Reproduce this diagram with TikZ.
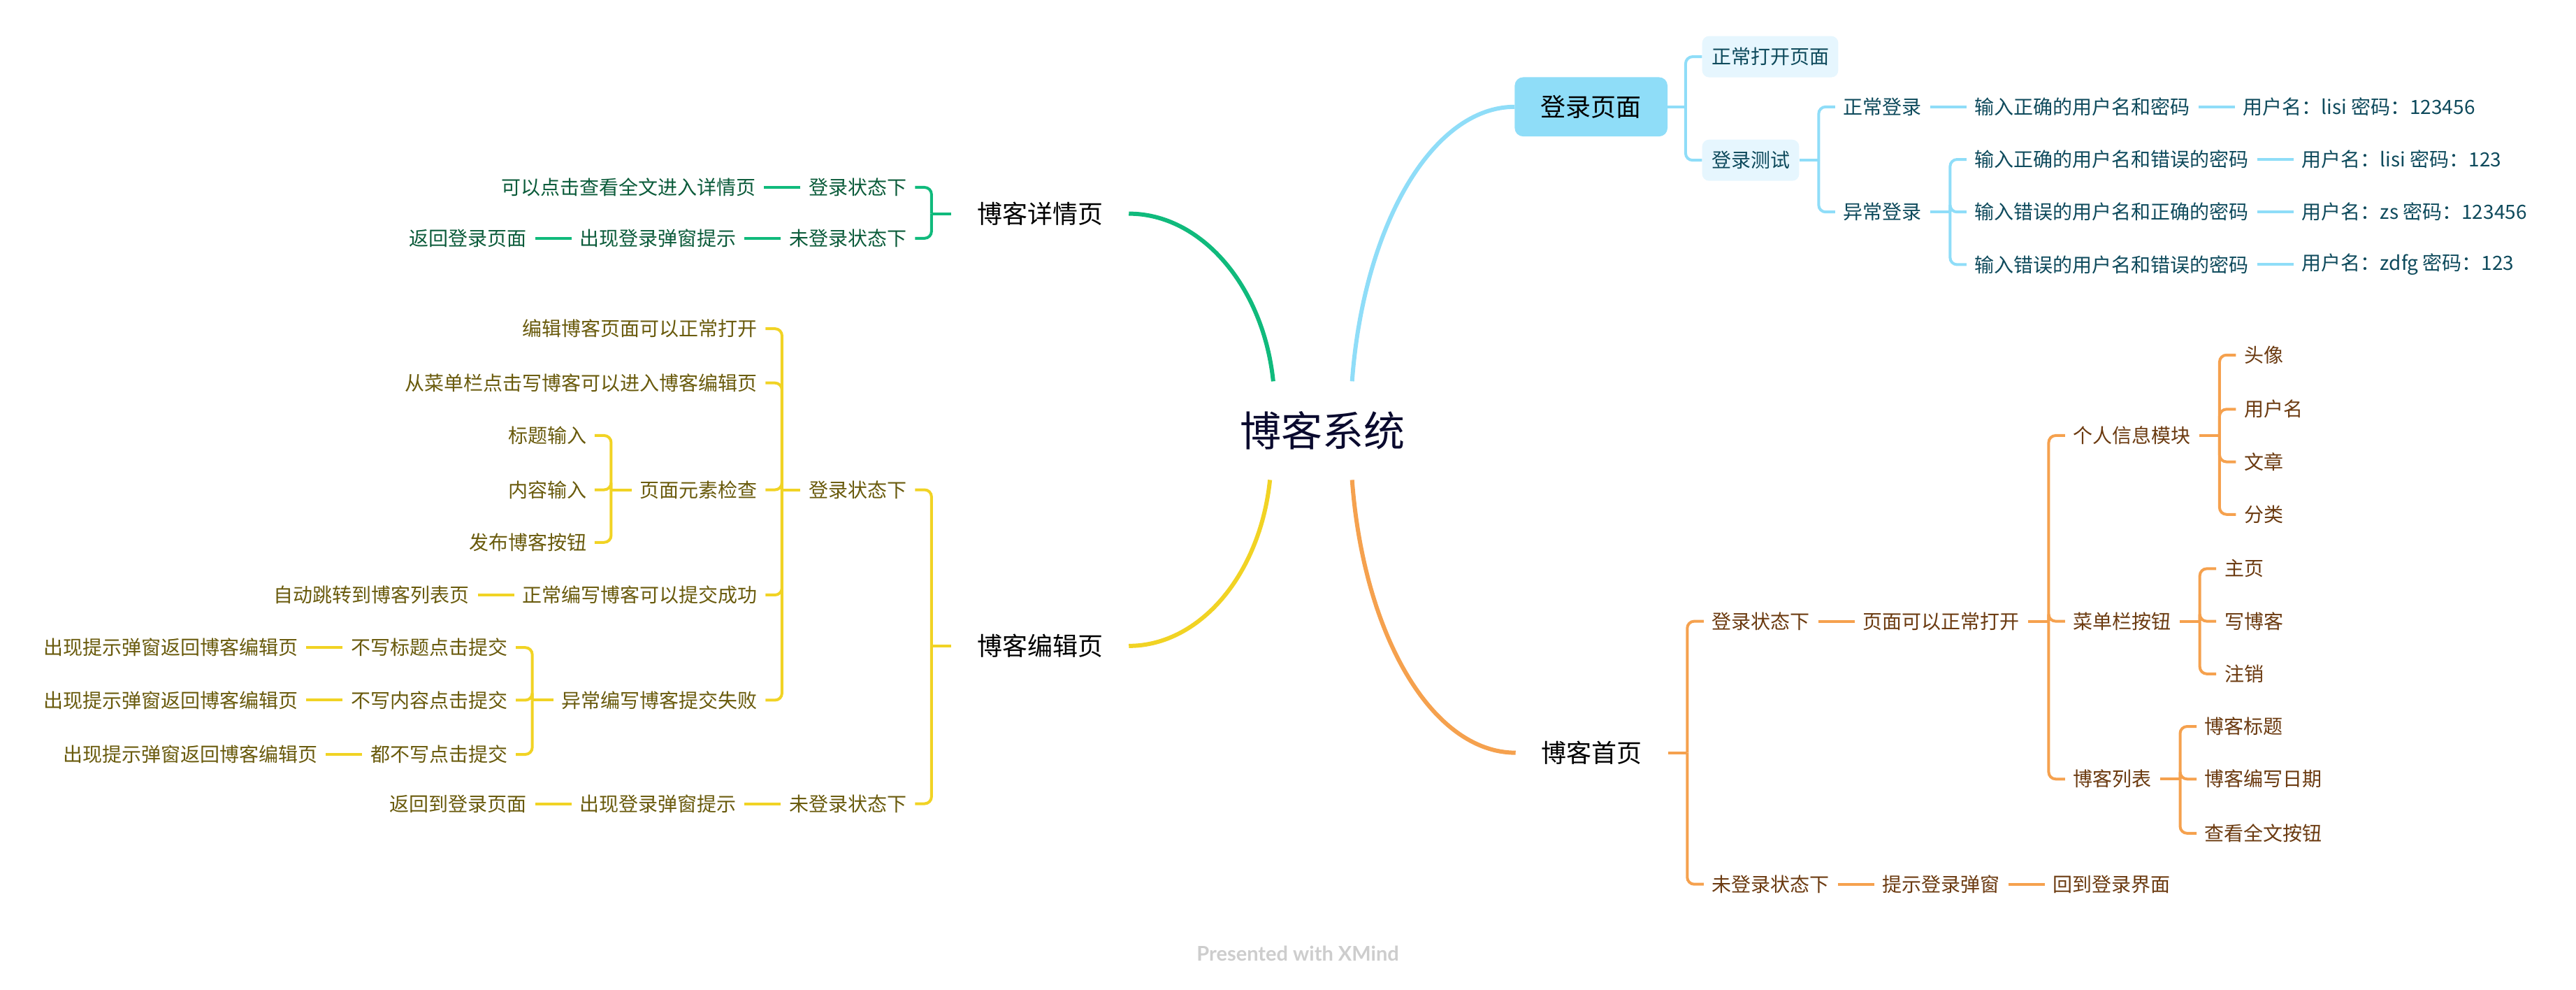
\documentclass[tikz,border=0pt]{standalone}
\usepackage{fontspec}
\setmainfont{Noto Sans CJK SC}
\newfontfamily\latofont{Lato}
\usetikzlibrary{positioning,calc}
\definecolor{bl}{HTML}{8FDDF8}
\definecolor{blfill}{HTML}{E6F6FE}
\definecolor{bltext}{HTML}{0E4A5C}
\definecolor{gr}{HTML}{10BA7C}
\definecolor{grtext}{HTML}{0B5B3A}
\definecolor{ye}{HTML}{F1D324}
\definecolor{yetext}{HTML}{695A0C}
\definecolor{orl}{HTML}{F5A14E}
\definecolor{ortext}{HTML}{6B3A10}
\definecolor{roottext}{HTML}{0A0A2E}
\definecolor{foot}{HTML}{CDCDCD}
\tikzset{
  leaf/.style={font=\fontsize{28}{30}\selectfont, inner xsep=11.75pt, inner ysep=4pt},
  lR/.style={leaf, anchor=west},
  lL/.style={leaf, anchor=east},
  bT/.style={text=bltext}, gT/.style={text=grtext}, yT/.style={text=yetext}, oT/.style={text=ortext},
  mainnode/.style={font=\fontsize{36}{40}\selectfont, inner xsep=37pt, inner ysep=6pt, text=black},
  boxsub/.style={font=\fontsize{28}{30}\selectfont, fill=blfill, text=bltext, rounded corners=10pt, inner xsep=13.4pt, minimum height=59pt, anchor=west},
  bline/.style={draw=bl, line width=4pt},
  gline/.style={draw=gr, line width=4pt},
  yline/.style={draw=ye, line width=4pt},
  oline/.style={draw=orl, line width=4pt},
  curve/.style={line width=6pt}
}
\newcommand{\brR}[4]{%
  \path (#3.west |- #2.east) ++(-23.5pt,0) coordinate (#2sp);
  \draw[#1] (#2.east) -- (#2sp);
  \foreach \ch in {#4} {\draw[#1, rounded corners=10pt] (#2sp) |- (\ch.west);}
}
\newcommand{\brL}[4]{%
  \path (#3.east |- #2.west) ++(23.5pt,0) coordinate (#2sp);
  \draw[#1] (#2.west) -- (#2sp);
  \foreach \ch in {#4} {\draw[#1, rounded corners=10pt] (#2sp) |- (\ch.east);}
}
\begin{document}
\begin{tikzpicture}[x=2.3508pt, y=-2.3508pt]
\useasboundingbox (0,0) rectangle (1568,602);

% root
\node[font=\fontsize{59}{64}\selectfont, text=roottext, inner sep=0pt] (root) at (805,262) {博客系统};
\coordinate (rG) at (775,232);
\coordinate (rB) at (823,232);
\coordinate (rY) at (773,292);
\coordinate (rO) at (823,292);

% main topics
\node[mainnode] (det) at (633,130) {博客详情页};
\node[mainnode] (edit) at (633,393) {博客编辑页};
\node[mainnode] (home) at (969,458) {博客首页};
\node[font=\fontsize{36}{40}\selectfont, fill=bl, text=black, rounded corners=12pt, minimum width=218.6pt, minimum height=84.6pt] (login) at (968.5,65) {登录页面};

\draw[gr, curve] (rG) .. controls (769,174) and (731,130) .. (det.east);
\draw[bl, curve] (rB) .. controls (830,137) and (872,65) .. (login.west);
\draw[ye, curve] (rY) .. controls (767,350) and (730,393) .. (edit.east);
\draw[orl, curve] (rO) .. controls (830,387) and (872,458) .. (home.west);

% ---------- blue: login page
\node[boxsub] (open) at (1036,34.5) {正常打开页面};
\node[boxsub] (test) at (1036,97.5) {登录测试};
\brR{bline}{login}{open}{open,test}
\node[lR,bT] (nl) at (1117,65) {正常登录};
\node[lR,bT] (al) at (1117,129) {异常登录};
\brR{bline}{test}{nl}{nl,al}
\node[lR,bT,right=52pt of nl] (nl1) {输入正确的用户名和密码};
\node[lR,bT,right=52pt of nl1] (nl2) {用户名：lisi 密码：123456};
\draw[bline] (nl.east) -- (nl1.west);
\draw[bline] (nl1.east) -- (nl2.west);
\node[lR,bT] (al1) at (1197,97) {输入正确的用户名和错误的密码};
\node[lR,bT] (al2) at (1197,129) {输入错误的用户名和正确的密码};
\node[lR,bT] (al3) at (1197,161) {输入错误的用户名和错误的密码};
\brR{bline}{al}{al1}{al1,al2,al3}
\node[lR,bT,right=52pt of al1] (al1a) {用户名：lisi 密码：123};
\node[lR,bT,right=52pt of al2] (al2a) {用户名：zs 密码：123456};
\node[lR,bT,right=52pt of al3] (al3a) {用户名：zdfg 密码：123};
\draw[bline] (al1.east) -- (al1a.west);
\draw[bline] (al2.east) -- (al2a.west);
\draw[bline] (al3.east) -- (al3a.west);

% ---------- orange: home page
\node[lR,oT] (h1) at (1037,378) {登录状态下};
\node[lR,oT] (h2) at (1037,538) {未登录状态下};
\brR{oline}{home}{h1}{h1,h2}
\node[lR,oT,right=52pt of h1] (h11) {页面可以正常打开};
\draw[oline] (h1.east) -- (h11.west);
\node[lR,oT] (h111) at (1257,265) {个人信息模块};
\node[lR,oT] (h112) at (1257,378) {菜单栏按钮};
\node[lR,oT] (h113) at (1257,474) {博客列表};
\brR{oline}{h11}{h111}{h111,h112,h113}
\node[lR,oT] (p1) at (1361,216) {头像};
\node[lR,oT] (p2) at (1361,249) {用户名};
\node[lR,oT] (p3) at (1361,281) {文章};
\node[lR,oT] (p4) at (1361,313) {分类};
\brR{oline}{h111}{p1}{p1,p2,p3,p4}
\node[lR,oT] (m1) at (1349,346) {主页};
\node[lR,oT] (m2) at (1349,378) {写博客};
\node[lR,oT] (m3) at (1349,410) {注销};
\brR{oline}{h112}{m1}{m1,m2,m3}
\node[lR,oT] (b1) at (1337,442) {博客标题};
\node[lR,oT] (b2) at (1337,474) {博客编写日期};
\node[lR,oT] (b3) at (1337,507) {查看全文按钮};
\brR{oline}{h113}{b1}{b1,b2,b3}
\node[lR,oT,right=52pt of h2] (h21) {提示登录弹窗};
\node[lR,oT,right=52pt of h21] (h22) {回到登录界面};
\draw[oline] (h2.east) -- (h21.west);
\draw[oline] (h21.east) -- (h22.west);

% ---------- green: detail page
\node[lL,gT] (d1) at (557,114) {登录状态下};
\node[lL,gT] (d2) at (557,145) {未登录状态下};
\brL{gline}{det}{d1}{d1,d2}
\node[lL,gT,left=52pt of d1] (d11) {可以点击查看全文进入详情页};
\node[lL,gT,left=52pt of d2] (d21) {出现登录弹窗提示};
\node[lL,gT,left=52pt of d21] (d22) {返回登录页面};
\draw[gline] (d1.west) -- (d11.east);
\draw[gline] (d2.west) -- (d21.east);
\draw[gline] (d21.west) -- (d22.east);

% ---------- yellow: edit page
\node[lL,yT] (e1) at (557,298) {登录状态下};
\node[lL,yT] (e2) at (557,489) {未登录状态下};
\brL{yline}{edit}{e1}{e1,e2}
\node[lL,yT] (e11) at (466,200) {编辑博客页面可以正常打开};
\node[lL,yT] (e12) at (466,233) {从菜单栏点击写博客可以进入博客编辑页};
\node[lL,yT] (e13) at (466,298) {页面元素检查};
\node[lL,yT] (e14) at (466,362) {正常编写博客可以提交成功};
\node[lL,yT] (e15) at (466,426) {异常编写博客提交失败};
\brL{yline}{e1}{e11}{e11,e12,e13,e14,e15}
\node[lL,yT] (e131) at (362,265) {标题输入};
\node[lL,yT] (e132) at (362,298) {内容输入};
\node[lL,yT] (e133) at (362,330) {发布博客按钮};
\brL{yline}{e13}{e131}{e131,e132,e133}
\node[lL,yT,left=52pt of e14] (e141) {自动跳转到博客列表页};
\draw[yline] (e14.west) -- (e141.east);
\node[lL,yT] (e151) at (314,394) {不写标题点击提交};
\node[lL,yT] (e152) at (314,426) {不写内容点击提交};
\node[lL,yT] (e153) at (314,459) {都不写点击提交};
\brL{yline}{e15}{e151}{e151,e152,e153}
\node[lL,yT,left=52pt of e151] (e1511) {出现提示弹窗返回博客编辑页};
\node[lL,yT,left=52pt of e152] (e1521) {出现提示弹窗返回博客编辑页};
\node[lL,yT,left=52pt of e153] (e1531) {出现提示弹窗返回博客编辑页};
\draw[yline] (e151.west) -- (e1511.east);
\draw[yline] (e152.west) -- (e1521.east);
\draw[yline] (e153.west) -- (e1531.east);
\node[lL,yT,left=52pt of e2] (e21) {出现登录弹窗提示};
\node[lL,yT,left=52pt of e21] (e22) {返回到登录页面};
\draw[yline] (e2.west) -- (e21.east);
\draw[yline] (e21.west) -- (e22.east);

% footer
\node[font=\latofont\bfseries\fontsize{29}{32}\selectfont, text=foot] (ft) at (790,580) {Presented with XMind};
\end{tikzpicture}
\end{document}
